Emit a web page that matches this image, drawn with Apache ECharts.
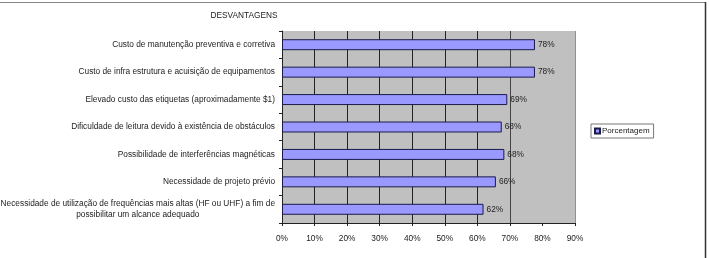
<!DOCTYPE html>
<html><head><meta charset="utf-8">
<script src="https://cdn.jsdelivr.net/npm/echarts@6/dist/echarts.min.js"></script>
<style>html,body{margin:0;padding:0;background:#fff}#c{width:709px;height:258px}</style>
</head><body><div id="c"></div>
<script>
var title = 'DESVANTAGENS';
var seriesName = 'Porcentagem';
var categories = [
  'Custo de manutenção preventiva e corretiva',
  'Custo de infra estrutura e acuisição de equipamentos',
  'Elevado custo das etiquetas (aproximadamente $1)',
  'Dificuldade de leitura devido à existência de obstáculos',
  'Possibilidade de interferências magnéticas',
  'Necessidade de projeto prévio',
  'Necessidade de utilização de frequências mais altas (HF ou UHF) a fim de\npossibilitar um alcance adequado'
];
var values = [77.7, 77.7, 69.2, 67.5, 68.3, 65.7, 61.9];
var xMin = 0, xMax = 90, xStep = 10;

var chart = echarts.init(document.getElementById('c'));
var font = 'Liberation Sans, Arial, sans-serif';
var fs = 8.3;
chart.setOption({
  animation: false,
  backgroundColor: '#fff',
  title: {text: title, left: 239, top: 7, textAlign: 'center',
    textStyle: {fontSize: fs, fontWeight: 'normal', color: '#222', fontFamily: font}},
  legend: {
    data: [seriesName], left: 591, top: 124, orient: 'vertical',
    itemWidth: 5, itemHeight: 5, itemGap: 2, padding: [3, 4, 3, 3],
    borderColor: '#777', borderWidth: 1, backgroundColor: '#fff',
    textStyle: {fontSize: 8, color: '#222', fontFamily: font, padding: [0, 0, 0, -3]},
    icon: 'rect'
  },
  grid: {left: 282, right: 134, top: 31, bottom: 35, show: true, containLabel: false,
    outerBoundsMode: 'none',
    backgroundColor: '#c0c0c0', borderWidth: 0},
  xAxis: {
    type: 'value', min: xMin, max: xMax, interval: xStep,
    axisLine: {show: true, lineStyle: {color: '#222'}},
    axisTick: {show: true, length: 3, lineStyle: {color: '#222'}},
    axisLabel: {formatter: '{value}%', fontSize: fs, color: '#222', fontFamily: font, margin: 12},
    splitLine: {show: true, lineStyle: {width: 1,
      color: ['#222','#222','#222','#222','#222','#222','#222','#444','#c0c0c0','#909090']}}
  },
  yAxis: {
    type: 'category', data: categories, inverse: true,
    axisLine: {show: true, lineStyle: {color: '#222'}},
    axisTick: {show: true, length: 3, lineStyle: {color: '#222'}},
    axisLabel: {
      fontSize: fs, color: '#222', fontFamily: font, margin: 7, lineHeight: 11,
      formatter: function (v) {
        if (v.indexOf('\n') >= 0) {
          return v.split('\n').map(function (s) { return '{c|' + s + '}'; }).join('\n');
        }
        return v;
      },
      rich: {c: {align: 'center', fontSize: fs, color: '#222', fontFamily: font, lineHeight: 11}}
    }
  },
  series: [{
    name: seriesName, type: 'bar', data: values, barWidth: '40%',
    itemStyle: {color: '#9999ff', borderColor: '#1a1a4a', borderWidth: 1},
    label: {show: true, position: 'right', distance: 3, fontSize: fs, color: '#222', fontFamily: font,
      formatter: function (p) { return Math.round(p.value) + '%'; }}
  }],
  graphic: [
    {type: 'line', shape: {x1: 0, y1: 2.5, x2: 706, y2: 2.5}, style: {stroke: '#888', lineWidth: 1}, silent: true},
    {type: 'line', shape: {x1: 705.5, y1: 2, x2: 705.5, y2: 258}, style: {stroke: '#333', lineWidth: 1.5}, silent: true}
  ]
});
</script></body></html>
